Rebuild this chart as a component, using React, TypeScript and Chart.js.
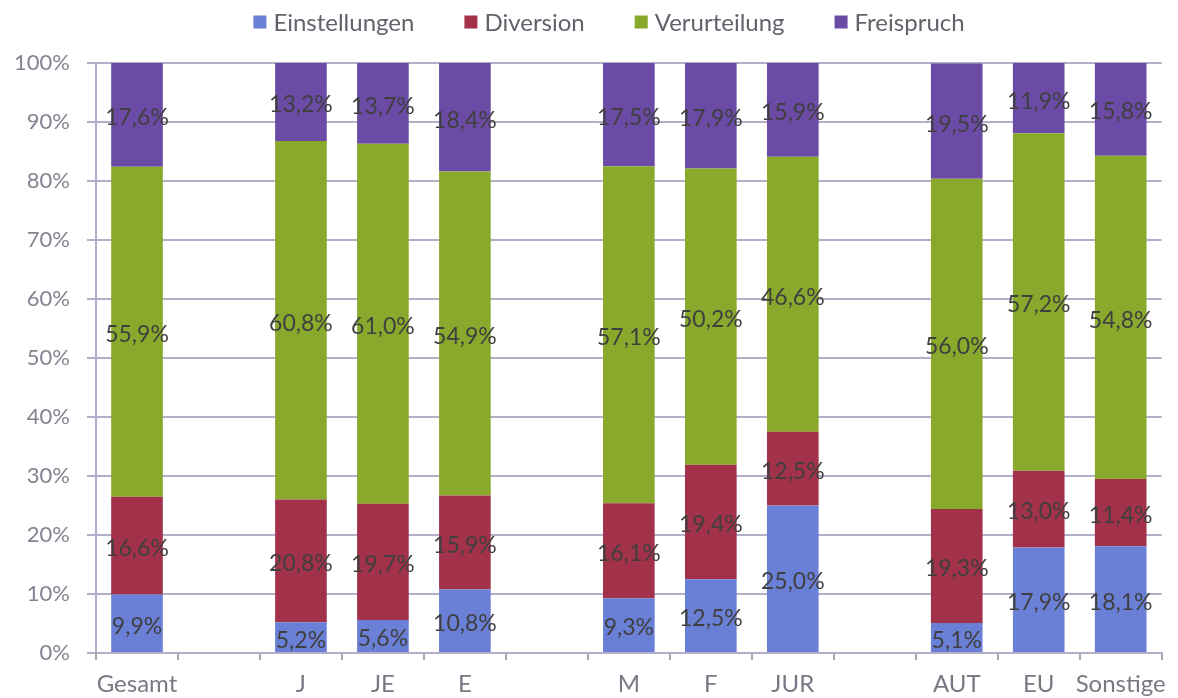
import React, { useEffect, useRef } from "react";
import { Chart, registerables } from "chart.js";

Chart.register(...registerables);

const categories = ["Gesamt", "", "J", "JE", "E", "", "M", "F", "JUR", "", "AUT", "EU", "Sonstige"];
const einstellungen = [9.9, null, 5.2, 5.6, 10.8, null, 9.3, 12.5, 25.0, null, 5.1, 17.9, 18.1];
const diversion = [16.6, null, 20.8, 19.7, 15.9, null, 16.1, 19.4, 12.5, null, 19.3, 13.0, 11.4];
const verurteilung = [55.9, null, 60.8, 61.0, 54.9, null, 57.1, 50.2, 46.6, null, 56.0, 57.2, 54.8];
const freispruch = [17.6, null, 13.2, 13.7, 18.4, null, 17.5, 17.9, 15.9, null, 19.5, 11.9, 15.8];
const seriesNames = ["Einstellungen", "Diversion", "Verurteilung", "Freispruch"];
const seriesColors = ["#6a80d6", "#a23249", "#89a92c", "#6b4ba6"];
const yTicks = [0, 10, 20, 30, 40, 50, 60, 70, 80, 90, 100];

const FONT = "Lato, 'Open Sans', sans-serif";

const labelPlugin = {
  id: "segLabels",
  afterDatasetsDraw(chart: any) {
    const ctx = chart.ctx;
    ctx.save();
    ctx.font = `23px ${FONT}`;
    ctx.fillStyle = "#3f3f3f";
    ctx.textAlign = "center";
    ctx.textBaseline = "middle";
    chart.data.datasets.forEach((ds: any, di: number) => {
      const meta = chart.getDatasetMeta(di);
      meta.data.forEach((bar: any, i: number) => {
        const v = ds.data[i];
        if (v == null) return;
        const { x, y, base } = bar.getProps(["x", "y", "base"], true);
        const cy = (y + base) / 2 + 3;
        ctx.fillText(v.toFixed(1).replace(".", ",") + "%", x, cy);
      });
    });
    ctx.restore();
  },
};

const legendPlugin = {
  id: "customLegend",
  afterDraw(chart: any) {
    const ctx = chart.ctx;
    ctx.save();
    ctx.font = `24px ${FONT}`;
    ctx.textBaseline = "middle";
    ctx.textAlign = "left";
    const box = 13;
    const gapBoxText = 7;
    const gapItems = 50;
    const widths = seriesNames.map((n) => ctx.measureText(n).width);
    const total =
      widths.reduce((a, b) => a + b, 0) + seriesNames.length * (box + gapBoxText) + gapItems * (seriesNames.length - 1);
    let x = 609 - total / 2;
    const cy = 22;
    seriesNames.forEach((n, i) => {
      ctx.fillStyle = seriesColors[i];
      ctx.fillRect(x, cy - box / 2, box, box);
      x += box + gapBoxText;
      ctx.fillStyle = "#63616b";
      ctx.fillText(n, x, cy + 1);
      x += widths[i] + gapItems;
    });
    ctx.restore();
  },
};

export default function App() {
  const ref = useRef<HTMLCanvasElement>(null);
  useEffect(() => {
    if (!ref.current) return;
    const data = [einstellungen, diversion, verurteilung, freispruch];
    const chart = new Chart(ref.current, {
      type: "bar",
      data: {
        labels: categories,
        datasets: seriesNames.map((n, i) => ({
          label: n,
          data: data[i] as any,
          backgroundColor: seriesColors[i],
          borderWidth: 0,
          barPercentage: 0.63,
          categoryPercentage: 1,
        })),
      },
      options: {
        animation: false,
        responsive: true,
        maintainAspectRatio: false,
        layout: { padding: { left: 0, right: 7, top: 63, bottom: 0 } },
        plugins: {
          legend: { display: false },
          tooltip: { enabled: false },
        },
        scales: {
          x: {
            stacked: true,
            offset: true,
            afterFit: (s: any) => {
              s.height = 45;
            },
            grid: {
              display: true,
              offset: true,
              drawOnChartArea: false,
              drawTicks: true,
              tickLength: 7,
              color: "#a8a6b0",
              lineWidth: 2,
            },
            border: { display: true, color: "#b4aec8", width: 2 },
            ticks: {
              color: "#7a7884",
              font: { size: 24, family: FONT, lineHeight: 1 },
              maxRotation: 0,
              autoSkip: false,
              padding: 12,
            },
          },
          y: {
            stacked: true,
            min: 0,
            max: 100,
            afterBuildTicks: (s: any) => {
              s.ticks = yTicks.map((v) => ({ value: v }));
            },
            afterFit: (s: any) => {
              s.width = 96;
            },
            grid: {
              color: "#b4aec8",
              lineWidth: 2,
              tickLength: 9,
            },
            border: { display: true, color: "#b4aec8", width: 2 },
            ticks: {
              color: "#858391",
              font: { size: 22, family: FONT },
              padding: 17,
              callback: (v: any) => v + "%",
            },
          },
        },
      },
      plugins: [labelPlugin, legendPlugin],
    });
    return () => chart.destroy();
  }, []);
  return (
    <div style={{ position: "fixed", left: 0, top: 0, width: 1178, height: 698 }}>
      <canvas ref={ref} />
    </div>
  );
}
